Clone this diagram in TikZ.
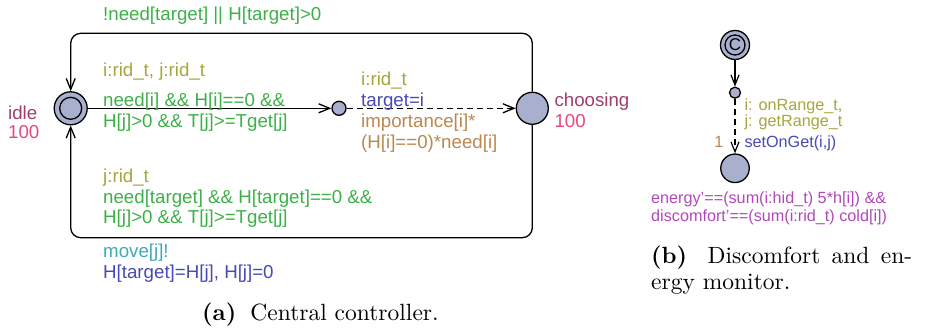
\documentclass[tikz,border=0pt]{standalone}
\usepackage{fontspec}
\newfontfamily\uppfont{Liberation Sans}
\newfontfamily\capfont{lmroman10-regular.otf}[BoldFont=lmroman10-bold.otf]
\usetikzlibrary{arrows.meta}
\definecolor{locfill}{RGB}{168,176,206}
\definecolor{cguard}{RGB}{60,176,72}
\definecolor{cselect}{RGB}{166,166,60}
\definecolor{cupdate}{RGB}{72,72,184}
\definecolor{csync}{RGB}{64,168,184}
\definecolor{cweight}{RGB}{184,136,80}
\definecolor{cname}{RGB}{158,62,110}
\definecolor{crate}{RGB}{232,70,128}
\definecolor{cinv}{RGB}{176,72,188}
\tikzset{
  loc/.style={circle, draw, line width=1.3pt, fill=locfill, inner sep=0pt},
  lbl/.style={anchor=base west, inner sep=0pt, font=\uppfont\fontsize{18.7}{21}\selectfont},
  lbls/.style={anchor=base west, inner sep=0pt, font=\uppfont\fontsize{16.2}{18}\selectfont},
  captext/.style={anchor=base west, inner sep=0pt, font=\capfont\fontsize{23.5}{26}\selectfont},
  conn/.style={draw, line width=1.3pt, -{Straight Barb[length=11pt,width=9pt]}},
  conns/.style={draw, line width=1.2pt, -{Straight Barb[length=10pt,width=8pt]}},
  dashedge/.style={dash pattern=on 6pt off 4pt}
}
\begin{document}
\begin{tikzpicture}[x=1pt,y=-1pt]
\useasboundingbox (0,0) rectangle (931,328);
% ---------- (a) central controller
\node[loc, minimum size=33pt] (idle) at (70.7,108.3) {};
\node[loc, minimum size=22pt] (idlein) at (idle.center) {};
\node[loc, minimum size=32pt] (choosing) at (532.3,108.3) {};
\node[loc, minimum size=14pt] (mid) at (339,108.3) {};
\coordinate (top) at (0,33.3);
\coordinate (bot) at (0,237.7);
\draw[conn, rounded corners=10pt] (choosing.north) -- (choosing.north |- top) -- (idle.north |- top) -- (idle.north);
\draw[conn, rounded corners=10pt] (choosing.south) -- (choosing.south |- bot) -- (idle.south |- bot) -- (idle.south);
\draw[conn] (idle) -- (mid);
\draw[conn, dashedge] (mid) -- (choosing);

\node[lbl, cguard] (g1) at (103,21) {!need[target] || H[target]>0};
\node[lbl, cselect] (s1) at (103,76.5) {i:rid\_t, j:rid\_t};
\node[lbl, cguard] (g2a) at (103,106.5) {need[i] \&\& H[i]==0 \&\&};
\node[lbl, cguard] (g2b) at (103,127.5) {H[j]>0 \&\& T[j]>=Tget[j]};
\node[lbl, cselect] (s3) at (103,183) {j:rid\_t};
\node[lbl, cguard] (g3a) at (103,204) {need[target] \&\& H[target]==0 \&\&};
\node[lbl, cguard] (g3b) at (103,223.5) {H[j]>0 \&\& T[j]>=Tget[j]};
\node[lbl, csync] (y3) at (103,258) {move[j]!};
\node[lbl, cupdate] (u3) at (103,279) {H[target]=H[j], H[j]=0};
\node[lbl, cselect] (s4) at (361,85.5) {i:rid\_t};
\node[lbl, cupdate] (u4) at (361,106.5) {target=i};
\node[lbl, cweight] (w4a) at (361,127.5) {importance[i]*};
\node[lbl, cweight] (w4b) at (361,148.5) {(H[i]==0)*need[i]};
\node[lbl, cname] (n1) at (8,119.5) {idle};
\node[lbl, crate] (r1) at (8,139) {100};
\node[lbl, cname] (n2) at (554.3,106.5) {choosing};
\node[lbl, crate] (r2) at (554.3,127.5) {100};

% ---------- (b) monitor
\node[loc, minimum size=29pt] (comm) at (735,45) {};
\node[loc, minimum size=20pt] (commin) at (comm.center) {\uppfont\fontsize{17}{17}\selectfont C};
\node[loc, minimum size=11pt] (mid2) at (735,92.7) {};
\node[loc, minimum size=28.5pt] (mon) at (735,168.3) {};
\draw[conns] (comm) -- (mid2);
\draw[conns, dashedge] (mid2) -- (mon);

\node[lbls, cselect] (s5a) at (744.3,110.5) {i: onRange\_t,};
\node[lbls, cselect] (s5b) at (744.3,126.5) {j: getRange\_t};
\node[lbls, cweight, anchor=base east] (p5) at (723.5,147.5) {1};
\node[lbls, cupdate] (u5) at (744.3,147.5) {setOnGet(i,j)};
\node[lbls, cinv] (i5a) at (651,203.5) {energy’==(sum(i:hid\_t) 5*h[i]) \&\&};
\node[lbls, cinv] (i5b) at (651,221.5) {discomfort’==(sum(i:rid\_t) cold[i])};

% ---------- captions
\node[captext] (capa) at (202,321) {\textbf{(a)}\hspace{0.6em}Central controller.};
\node[captext] (capb1) at (651,264) {\makebox[261pt][s]{\textbf{(b)}\hspace{0.6em plus 0.3em}Discomfort and en-}};
\node[captext] (capb2) at (651,290) {ergy monitor.};
\end{tikzpicture}
\end{document}
